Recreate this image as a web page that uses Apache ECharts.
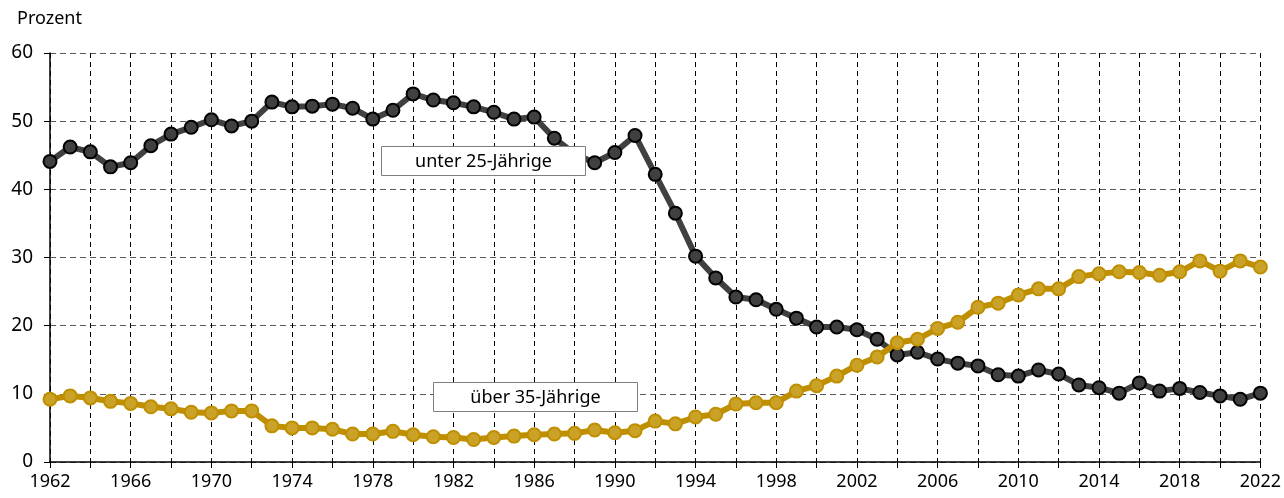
<!DOCTYPE html>
<html>
<head>
<meta charset="utf-8">
<script src="https://cdn.jsdelivr.net/npm/echarts@6/dist/echarts.min.js"></script>
<style>
  html, body { margin: 0; padding: 0; background: #fff; }
  #main { width: 1284px; height: 498px; }
</style>
</head>
<body>
<div id="main"></div>
<script>
var years = [];
for (var y = 1962; y <= 2022; y++) years.push(String(y));

// unter 25-Jährige, Prozent
var unter25 = [44.1, 46.2, 45.5, 43.3, 43.9, 46.4, 48.1, 49.1, 50.2, 49.3,
  50.0, 52.8, 52.1, 52.2, 52.5, 51.9, 50.3, 51.6, 54.0, 53.1,
  52.7, 52.1, 51.3, 50.3, 50.6, 47.5, 45.2, 43.9, 45.4, 47.9,
  42.2, 36.5, 30.2, 27.0, 24.2, 23.8, 22.4, 21.1, 19.8, 19.8,
  19.4, 18.0, 15.7, 16.1, 15.1, 14.5, 14.1, 12.8, 12.6, 13.5,
  12.9, 11.3, 10.9, 10.1, 11.6, 10.4, 10.8, 10.2, 9.7, 9.2, 10.1];

// über 35-Jährige, Prozent
var ueber35 = [9.2, 9.7, 9.4, 8.9, 8.6, 8.1, 7.8, 7.3, 7.2, 7.5,
  7.5, 5.3, 5.0, 5.0, 4.8, 4.1, 4.1, 4.5, 4.0, 3.7,
  3.6, 3.3, 3.6, 3.8, 4.0, 4.1, 4.2, 4.7, 4.3, 4.6,
  6.0, 5.6, 6.6, 7.0, 8.5, 8.7, 8.7, 10.4, 11.2, 12.6,
  14.2, 15.4, 17.5, 18.0, 19.6, 20.5, 22.7, 23.3, 24.5, 25.4,
  25.4, 27.2, 27.6, 27.9, 27.8, 27.4, 27.9, 29.5, 28.0, 29.5, 28.6];

var FONT = '"Noto Sans", sans-serif';

function box(x, y, w, h, label) {
  return {
    type: 'group', left: x, top: y, z: 100,
    children: [
      { type: 'rect', z: 100, shape: { x: 0, y: 0, width: w, height: h },
        style: { fill: '#ffffff', stroke: '#7f7f7f', lineWidth: 1 } },
      { type: 'text', z: 101, x: w / 2, y: h / 2 + 1,
        style: { text: label, font: '18px ' + FONT, fill: '#000',
                 align: 'center', verticalAlign: 'middle' } }
    ]
  };
}

var myChart = echarts.init(document.getElementById('main'));
myChart.setOption({
  animation: false,
  grid: { left: 50, right: 22, top: 53, bottom: 36 },
  xAxis: {
    type: 'category',
    data: years,
    boundaryGap: false,
    axisLine: { lineStyle: { color: '#000', width: 1.5 } },
    axisTick: { interval: 1, length: 6, lineStyle: { color: '#000' } },
    axisLabel: { interval: 3, color: '#000', fontSize: 18, fontFamily: FONT, margin: 11 },
    splitLine: { show: true, interval: 1, lineStyle: { color: '#000', type: [5, 4], width: 1 } }
  },
  yAxis: {
    type: 'value',
    min: 0, max: 60, interval: 10,
    axisLine: { show: true, lineStyle: { color: '#000', width: 1.5 } },
    axisTick: { show: true, length: 6, lineStyle: { color: '#000' } },
    axisLabel: { color: '#000', fontSize: 19, fontFamily: FONT, margin: 17 },
    splitLine: { lineStyle: { color: '#595959', type: [6, 4], width: 1.2 } }
  },
  series: [{
    name: 'unter 25-Jährige',
    type: 'line',
    data: unter25,
    symbol: 'circle',
    symbolSize: 13,
    lineStyle: { color: '#404040', width: 6 },
    itemStyle: { color: '#404040', borderColor: '#000', borderWidth: 2 }
  }, {
    name: 'über 35-Jährige',
    type: 'line',
    data: ueber35,
    symbol: 'circle',
    symbolSize: 13,
    lineStyle: { color: '#BF8F00', width: 6 },
    itemStyle: { color: '#C9A227', borderColor: '#BF8F00', borderWidth: 2 }
  }],
  graphic: [
    { type: 'text', left: 17, top: 10,
      style: { text: 'Prozent', font: '18px ' + FONT, fill: '#000' } },
    box(381, 146, 204, 29, 'unter 25-Jährige'),
    box(433, 382, 204, 29, 'über 35-Jährige')
  ]
});
</script>
</body>
</html>
